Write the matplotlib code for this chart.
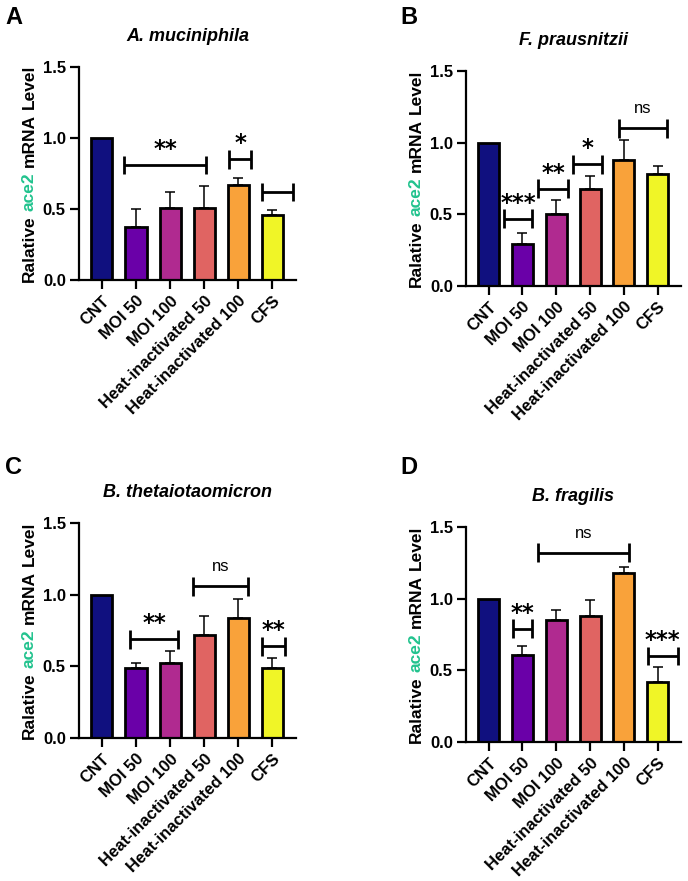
import matplotlib
matplotlib.use("Agg")
import matplotlib.pyplot as plt
import numpy as np

plt.rcParams['font.family'] = ['Liberation Sans', 'DejaVu Sans']

categories = ["CNT", "MOI 50", "MOI 100", "Heat-inactivated 50", "Heat-inactivated 100", "CFS"]
bar_colors = ["#10107F", "#6A00A8", "#B02A90", "#E06462", "#F9A23A", "#F0F527"]

titles = ["A. muciniphila", "F. prausnitzii", "B. thetaiotaomicron", "B. fragilis"]
letters = ["A", "B", "C", "D"]

A_mean = [1.00, 0.37, 0.51, 0.51, 0.67, 0.46]
A_err = [0.00, 0.13, 0.11, 0.15, 0.05, 0.03]
B_mean = [1.00, 0.29, 0.50, 0.68, 0.88, 0.78]
B_err = [0.00, 0.08, 0.10, 0.09, 0.14, 0.06]
C_mean = [1.00, 0.49, 0.52, 0.72, 0.84, 0.49]
C_err = [0.00, 0.03, 0.09, 0.13, 0.13, 0.07]
D_mean = [1.00, 0.61, 0.85, 0.88, 1.18, 0.42]
D_err = [0.00, 0.06, 0.07, 0.11, 0.04, 0.10]

# significance brackets: (start, end, level, label)
A_sig = [(0.65, 3.06, 0.81, "**"), (3.74, 4.38, 0.85, "*"), (4.68, 5.59, 0.62, "")]
B_sig = [(0.44, 1.29, 0.47, "***"), (1.47, 2.35, 0.68, "**"), (2.49, 3.35, 0.85, "*"), (3.85, 5.29, 1.10, "ns")]
C_sig = [(0.82, 2.24, 0.69, "**"), (2.68, 4.29, 1.06, "ns"), (4.68, 5.38, 0.64, "**")]
D_sig = [(0.71, 1.29, 0.79, "**"), (1.47, 4.15, 1.32, "ns"), (4.70, 5.60, 0.60, "***")]

means = [A_mean, B_mean, C_mean, D_mean]
errs = [A_err, B_err, C_err, D_err]
sigs = [A_sig, B_sig, C_sig, D_sig]

W, H = 688, 881
fig = plt.figure(figsize=(W / 100, H / 100), dpi=100)

# axes boxes in pixels: left, right, top(1.5), bottom(0)
boxes = [(79, 296, 67, 280), (466, 681, 71, 286), (79, 296, 523, 738), (466, 681, 527, 742)]
letter_pos = [(5, 6), (400, 6), (5, 456), (400, 456)]

axes = []
for i in range(4):
    l, r, t, b = boxes[i]
    ax = fig.add_axes([l / W, 1 - b / H, (r - l) / W, (b - t) / H])
    axes.append(ax)
    x = np.arange(len(categories))
    m = np.array(means[i])
    e = np.array(errs[i])
    ax.errorbar(x[1:], m[1:], yerr=[np.zeros(len(x) - 1), e[1:]], fmt='none',
                ecolor='black', elinewidth=1.1, capsize=3.6, capthick=1.1, zorder=1)
    ax.bar(x, m, width=0.62, color=bar_colors, edgecolor='black', linewidth=2.0, zorder=2)
    ax.set_xlim(-0.67, 5.69)
    ax.set_ylim(0, 1.5)
    ax.set_yticks([0, 0.5, 1.0, 1.5])
    ax.set_yticklabels(["0.0", "0.5", "1.0", "1.5"], fontweight='bold', fontsize=12)
    ax.set_xticks(x)
    ax.set_xticklabels(categories, rotation=45, ha='right', rotation_mode='anchor',
                       fontweight='bold', fontsize=12)
    for s in ['top', 'right']:
        ax.spines[s].set_visible(False)
    for s in ['left', 'bottom']:
        ax.spines[s].set_linewidth(1.6)
    ax.tick_params(axis='both', direction='out', length=6.5, width=1.6, pad=3)
    ax.set_title(titles[i], fontstyle='italic', fontweight='bold', fontsize=13, pad=19)
    ax.patch.set_alpha(0)

    h = 0.066
    for (x1, x2, y, lab) in sigs[i]:
        ax.plot([x1, x2], [y, y], color='black', lw=2.0, solid_capstyle='butt', clip_on=False, zorder=3)
        for xx in (x1, x2):
            ax.plot([xx, xx], [y - h, y + h], color='black', lw=2.0, solid_capstyle='butt', clip_on=False, zorder=3)
        if lab == "ns":
            ax.annotate(lab, xy=((x1 + x2) / 2, y + h), xytext=(0, 2), textcoords='offset points',
                        ha='center', va='bottom', fontsize=12, annotation_clip=False)
        elif lab:
            ax.annotate(lab, xy=((x1 + x2) / 2, y + h), xytext=(0, -4), textcoords='offset points',
                        ha='center', va='bottom', fontsize=16.5, fontweight='bold',
                        family='DejaVu Sans', annotation_clip=False)

    lx, ly = letter_pos[i]
    fig.text(lx / W, 1 - ly / H, letters[i], fontsize=17, fontweight='bold', va='top', ha='left')

# multi-coloured y labels
label_parts = [("Ralative", "black"), ("ace2", "#22C38E"), ("mRNA", "black"), ("Level", "black")]
fs = 12.5
all_texts = []
for i in range(4):
    ts = []
    for s, c in label_parts:
        t = fig.text(0, 0, s, rotation=90, color=c, fontsize=fs, fontweight='bold',
                     ha='center', va='bottom')
        ts.append(t)
    all_texts.append(ts)

fig.canvas.draw()
r = fig.canvas.get_renderer()
gap = 0.28 * fs * 100 / 72
for i in range(4):
    l, rr, t, b = boxes[i]
    ts = all_texts[i]
    hs = [tt.get_window_extent(r).height for tt in ts]
    total = sum(hs) + gap * (len(ts) - 1)
    yc = H - (t + b) / 2  # display coords (origin bottom)
    y0 = yc - total / 2
    xc = l - 50
    for tt, hh in zip(ts, hs):
        tt.set_position((xc / W, y0 / H))
        y0 += hh + gap

fig.savefig("out.png", dpi=100)
